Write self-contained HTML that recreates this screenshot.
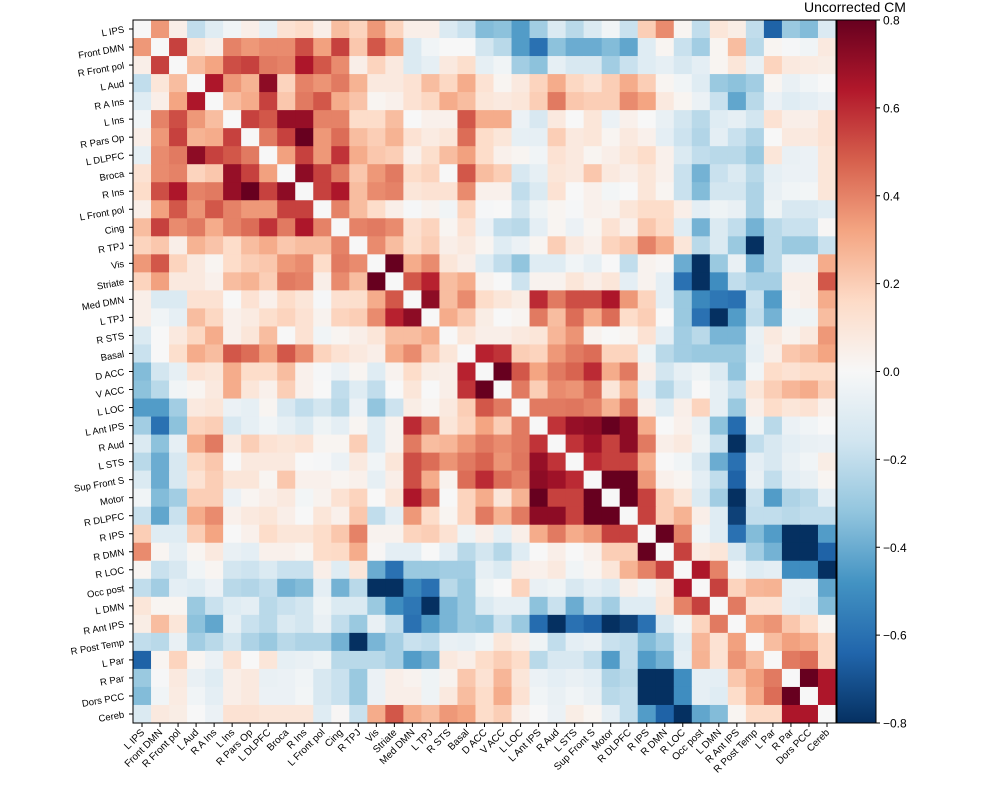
<!DOCTYPE html>
<html><head><meta charset="utf-8"><style>
html,body{margin:0;padding:0;background:#fff;}
svg{display:block;font-family:"Liberation Sans","DejaVu Sans",sans-serif;}
</style></head><body>
<svg id="chart" width="1000" height="800" viewBox="0 0 1000 800" xmlns="http://www.w3.org/2000/svg">
<rect width="1000" height="800" fill="#fff"/>
<g id="cells"></g>
<g id="yaxis"></g>
<g id="xaxis"></g>
<g id="cbar"></g>
<text x="855" y="12" text-anchor="middle" font-size="14">Uncorrected CM</text>
</svg>
<script>
const regions = ["L IPS","Front DMN","R Front pol","L Aud","R A Ins","L Ins","R Pars Op","L DLPFC","Broca","R Ins","L Front pol","Cing","R TPJ","Vis","Striate","Med DMN","L TPJ","R STS","Basal","D ACC","V ACC","L LOC","L Ant IPS","R Aud","L STS","Sup Front S","Motor","R DLPFC","R IPS","R DMN","R LOC","Occ post","L DMN","R Ant IPS","R Post Temp","L Par","R Par","Dors PCC","Cereb"];
// upper-triangle rows: row i lists values for columns rowStart[i]..38
const rowStart = [0,0,0,0,0,0,0,0,0,0,0,0,0,13,14,15,16,17,18,19,20,21,22,23,24,25,26,27,28,29,30,31,32,33,34,35,36,37,38];
const rowValues = [
[0,.35,.05,-.2,-.1,-.03,.05,-.07,.12,.15,.05,.25,.18, .35,.18,.05,.05,-.12,-.18,-.35,-.33,-.45,-.28,-.12,-.22,-.12, -.03,-.18,.2,.38,.02,-.2,.1,.06,-.2,-.65,-.3,-.35,-.12],
[.35,0,.55,.1,.05,.4,.35,.38,.38,.52,.33,.55,.22, .5,.33,-.12,-.03,0,0,-.15,-.22,-.45,-.6,-.33,-.4,-.4, -.35,-.42,-.1,.02,-.18,-.28,.02,.25,-.22,.02,-.01,-.03,.08],
[.05,.55,0,.25,.32,.52,.55,.42,.4,.65,.5,.38,.05, .18,.08,-.12,-.07,.08,.14,-.07,-.03,-.28,-.33,-.07,-.13,-.13, -.28,-.18,-.1,-.07,-.13,-.08,.02,.1,-.06,.18,.08,.07,.06],
[-.2,.1,.25,0,.65,.35,.28,.72,.18,.4,.36,.42,.28, .08,.08,.12,.25,.17,.3,.12,.02,.08,.18,.3,.17,.12, .2,.3,.2,.02,-.03,-.1,-.3,-.33,-.28,.02,-.06,-.03,0],
[-.1,.05,.32,.65,0,.25,.3,.55,.22,.42,.5,.3,.23, .02,.04,.12,.17,.3,.25,.1,.08,.1,.2,.42,.22,.2, .2,.38,.32,.08,.02,-.05,-.18,-.42,-.22,-.05,-.1,-.08,-.05],
[-.03,.4,.52,.35,.25,0,.55,.5,.7,.7,.4,.4,.15, .15,.25,0,.04,.04,.5,.3,.3,-.05,-.13,.08,0,.1, -.05,.04,0,-.06,-.15,-.22,-.1,-.07,-.15,.12,.05,.05,.12],
[.05,.35,.55,.28,.3,.55,0,.42,.55,.8,.35,.45,.25, .2,.28,.12,.07,.1,.45,.15,.1,-.07,-.07,.2,.08,.1, .02,.08,.04,-.08,-.17,-.24,-.08,-.18,-.25,0,.08,.08,.12],
[-.07,.38,.42,.72,.55,.5,.42,0,.33,.55,.35,.58,.3, .22,.2,.04,.14,.25,.33,.15,.04,.02,-.03,.12,.08,.02, .05,.1,.15,.04,-.12,-.2,-.22,-.22,-.3,.1,-.06,-.05,.1],
[.12,.38,.4,.18,.22,.7,.55,.33,0,.72,.55,.42,.22, .35,.42,.15,.18,0,.5,.25,.2,-.13,-.07,.1,.08,.22, .08,.05,.1,.04,-.18,-.38,-.18,-.12,-.22,-.07,-.05,-.05,.1],
[.15,.52,.65,.4,.42,.7,.8,.55,.72,0,.55,.65,.25, .38,.4,.1,.12,.12,.38,.04,.04,-.2,-.12,.12,0,.04, -.02,0,.1,.02,-.18,-.35,-.15,-.15,-.25,-.06,-.03,-.02,.1],
[.05,.33,.5,.36,.5,.4,.35,.35,.55,.55,0,.4,.25, .15,.05,-.01,.03,-.03,.18,-.01,0,-.15,-.04,.02,-.01,.04, .03,.1,.15,.15,.05,-.08,-.04,-.06,-.25,-.04,-.13,-.13,-.1],
[.25,.55,.38,.42,.3,.4,.45,.58,.42,.65,.4,0,.4, .42,.38,.13,.18,.02,.12,-.05,-.2,-.22,-.08,.02,-.05,.02, .12,.04,.22,.16,-.1,-.38,-.12,-.2,-.38,-.22,-.18,-.18,.01],
[.18,.22,.05,.28,.23,.15,.25,.3,.22,.25,.25,.4,0, .38,.25,.14,.2,.05,.08,.02,-.1,-.05,.02,.2,.08,.04, .18,.22,.4,.3,.1,-.22,-.12,-.3,-.8,-.22,-.3,-.3,-.18],
[0,.8,.3,.38,.1,.05,-.1,-.2,-.32,-.1,-.1,-.03,-.07, 0,-.2,.03,.01,-.4,-.8,-.3,-.06,-.37,-.22,-.05,-.05,.3],
[0,.5,.62,.25,.3,.03,0,-.17,.03,.03,.1,.05, .1,-.08,.03,-.08,-.6,-.8,-.5,-.2,-.27,-.27,.05,.05,.5],
[0,.72,.25,.38,.15,.1,.06,.6,.42,.52,.52, .65,.35,.18,-.08,-.3,-.52,-.58,-.6,-.18,-.45,.03,.05,.3],
[0,.3,.22,.06,0,.02,.42,.25,.45,.3, .45,.15,.2,0,-.3,-.6,-.8,-.45,-.2,-.38,-.04,-.04,.25],
[0,.1,.05,.05,.08,.1,.27,.36,.03, 0,.02,.12,-.08,-.28,-.22,-.37,-.37,-.06,.08,.03,.08,.35],
[0,.62,.58,.2,.18,.35,.42,.45, .18,.18,-.04,-.22,-.28,-.3,-.3,-.3,-.07,.05,.22,.25,.32],
[0,.8,.5,.32,.42,.47,.6, .3,.42,.05,-.15,-.07,-.04,-.12,-.32,-.03,.15,.12,.15,.15],
[0,.42,.2,.38,.36,.45, .1,.28,-.07,-.23,-.12,0,-.07,-.18,.1,.2,.27,.3,.2],
[0,.42,.42,.43,.4, .28,.42,.05,-.1,.05,.18,-.07,-.3,.05,.15,.1,.12,.04],
[0,.58,.7,.72, .8,.72,.3,0,.04,-.06,-.33,-.62,-.04,-.22,-.05,-.03,0],
[0,.58,.68, .55,.72,.42,.05,.08,-.04,-.18,-.8,-.2,-.13,-.08,-.06,-.05],
[0,.6, .55,.55,.3,0,-.03,-.13,-.4,-.6,-.08,-.13,-.06,-.03,.06],
[0, .8,.8,.35,.04,.02,-.08,-.2,-.65,-.06,-.2,-.08,-.06,.02],
[0,.8,.55,.2,.1,-.12,-.28,-.8,-.18,-.45,-.25,-.22,-.08],
[0,.55,.2,.28,.05,-.1,-.75,-.2,-.2,-.22,-.2,-.2],
[0,.8,.4,-.03,-.1,-.6,-.35,-.45,-.8,-.8,-.45],
[0,.55,.07,.1,-.13,-.28,-.38,-.8,-.8,-.65],
[0,.65,.4,-.03,-.1,-.08,-.5,-.5,-.8],
[0,.55,.18,.27,.28,-.07,-.07,-.42],
[0,.42,.12,.12,-.08,-.1,-.35],
[0,.33,.36,.22,.15,.02],
[0,.25,.33,.3,.16],
[0,.42,.45,.16],
[0,.8,.65],
[0,.65],
[0]
];
const cbTicks = [0.8,0.6,0.4,0.2,0.0,-0.2,-0.4,-0.6,-0.8];
const cbTickLabels = ["0.8","0.6","0.4","0.2","0.0","\u22120.2","\u22120.4","\u22120.6","\u22120.8"];

const NS = "http://www.w3.org/2000/svg";
const N = regions.length;
const X0 = 133, Y0 = 20, W = 703, H = 703;
const cw = W / N, ch = H / N;
const vmin = -0.8, vmax = 0.8;
const xPos = i => X0 + i * cw;
const yPos = i => Y0 + i * ch;

const M = [];
for (let i = 0; i < N; i++) M.push(new Array(N).fill(null));
for (let i = 0; i < N; i++) rowValues[i].forEach((v, k) => { M[i][rowStart[i] + k] = v; });
for (let i = 0; i < N; i++) for (let j = 0; j < N; j++) if (M[i][j] === null) M[i][j] = M[j][i] === null ? 0 : M[j][i];

const stops = ["#053061","#2166ac","#4393c3","#92c5de","#d1e5f0","#f7f7f7","#fddbc7","#f4a582","#d6604d","#b2182b","#67001f"];
function hex(h){return [parseInt(h.slice(1,3),16),parseInt(h.slice(3,5),16),parseInt(h.slice(5,7),16)];}
const stopRGB = stops.map(hex);
function cmap(v){
  let t = (v - vmin) / (vmax - vmin);
  t = Math.max(0, Math.min(1, t)) * (stops.length - 1);
  const k = Math.min(stops.length - 2, Math.floor(t)), f = t - k;
  const a = stopRGB[k], b = stopRGB[k+1];
  return "rgb(" + a.map((c, q) => Math.round(c + (b[q] - c) * f)).join(",") + ")";
}
function mk(tag, attrs, parent){
  const el = document.createElementNS(NS, tag);
  for (const k in attrs) el.setAttribute(k, attrs[k]);
  parent.appendChild(el);
  return el;
}

const cells = document.getElementById("cells");
for (let i = 0; i < N; i++) for (let j = 0; j < N; j++) {
  const r = mk("rect", {x: xPos(j).toFixed(2), y: yPos(i).toFixed(2), width: (cw + 0.6).toFixed(2), height: (ch + 0.6).toFixed(2), fill: cmap(M[i][j])}, cells);
  
  
}
const frame = mk("rect", {x: X0, y: Y0, width: W, height: H, fill: "none", stroke: "#000", "stroke-width": 1}, cells);



const yaxis = document.getElementById("yaxis");
const xaxis = document.getElementById("xaxis");
regions.forEach((name, i) => {
  const yc = yPos(i) + ch / 2;
  mk("line", {x1: X0 - 4, x2: X0, y1: yc, y2: yc, stroke: "#000", "stroke-width": 1}, yaxis);
  const t = mk("text", {x: X0 - 9, y: yc + 3.5, "text-anchor": "end", "font-size": 9.5, transform: "rotate(-10 " + (X0 - 9) + " " + yc + ")"}, yaxis);
  t.textContent = name;
  
  
  const xc = xPos(i) + cw / 2;
  mk("line", {x1: xc, x2: xc, y1: Y0 + H, y2: Y0 + H + 4, stroke: "#000", "stroke-width": 1}, xaxis);
  const tx = mk("text", {x: xc + 3, y: Y0 + H + 10, "text-anchor": "end", "font-size": 10, transform: "rotate(-45 " + (xc + 3) + " " + (Y0 + H + 10) + ")"}, xaxis);
  tx.textContent = name;
  
  
});

const cb = document.getElementById("cbar");
const CBX = 837, CBW = 39;
const defs = mk("defs", {}, cb);
const grad = mk("linearGradient", {id: "cbg", x1: 0, y1: 1, x2: 0, y2: 0}, defs);
stops.forEach((c, k) => mk("stop", {offset: (k / (stops.length - 1)), "stop-color": c}, grad));
const cbr = mk("rect", {x: CBX, y: Y0, width: CBW, height: H, fill: "url(#cbg)", stroke: "#000", "stroke-width": 1}, cb);


const cbY = v => Y0 + (vmax - v) / (vmax - vmin) * H;
cbTicks.forEach((v, k) => {
  const y = cbY(v);
  mk("line", {x1: CBX + CBW, x2: CBX + CBW + 4, y1: y, y2: y, stroke: "#000", "stroke-width": 1}, cb);
  const t = mk("text", {x: CBX + CBW + 7, y: y + 4.5, "font-size": 12}, cb);
  t.textContent = cbTickLabels[k];
  
  
});
</script>
</body></html>
